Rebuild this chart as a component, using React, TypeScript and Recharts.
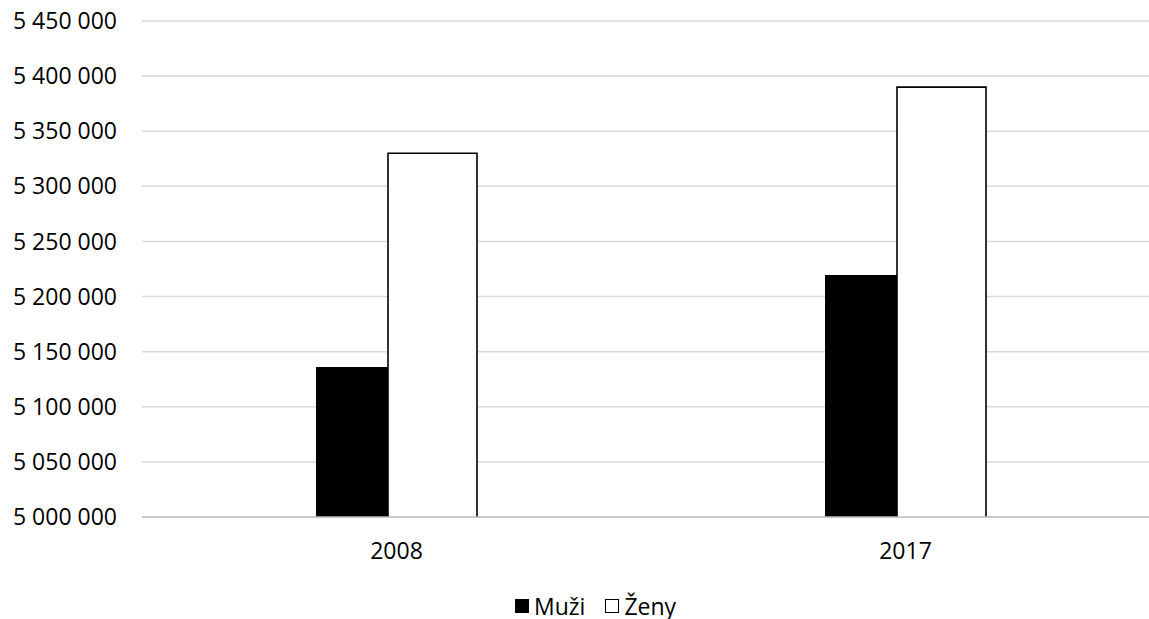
import { Bar, BarChart, CartesianGrid, Legend, XAxis, YAxis } from 'recharts';

const years = ['2008', '2017'];
const muzi = [5136000, 5219500];
const zeny = [5330000, 5390000];
const yTicks = [5000000, 5050000, 5100000, 5150000, 5200000, 5250000, 5300000, 5350000, 5400000, 5450000];

const data = years.map((year, i) => ({ year, muzi: muzi[i], zeny: zeny[i] }));

const FONT = '"Open Sans", sans-serif';

const fmt = (v: number) => v.toLocaleString('en-US').replace(/,/g, ' ');

// white bar, outlined on three sides (the axis line covers the bottom)
function OutlinedBar(props: any) {
  const { x, y, width, height } = props;
  return (
    <g>
      <rect x={x} y={y} width={width} height={height} fill="#fff" />
      <path
        d={`M${x},${y + height} L${x},${y} L${x + width},${y} L${x + width},${y + height}`}
        fill="none"
        stroke="#000"
        strokeWidth={1.6}
      />
    </g>
  );
}

function ChartLegend() {
  const item = (label: string, filled: boolean) => (
    <span style={{ display: 'inline-flex', alignItems: 'center', marginRight: 20 }}>
      <span
        style={{
          width: 14,
          height: 14,
          boxSizing: 'border-box',
          background: filled ? '#000' : '#fff',
          border: '1.5px solid #000',
          marginRight: 5,
        }}
      />
      <span>{label}</span>
    </span>
  );
  return (
    <div
      style={{
        height: 26,
        paddingLeft: 507,
        fontFamily: FONT,
        fontSize: 23,
        lineHeight: '26px',
        color: '#000',
        display: 'flex',
        alignItems: 'center',
      }}
    >
      {item('Muži', true)}
      {item('Ženy', false)}
    </div>
  );
}

export default function App() {
  return (
    <div
      style={{
        position: 'fixed',
        left: 0,
        top: 0,
        width: 1149,
        height: 619,
        overflow: 'hidden',
        background: '#fff',
      }}
    >
      <div style={{ position: 'absolute', left: 8, top: 8 }}>
        <BarChart
          width={1152}
          height={611}
          data={data}
          margin={{ top: 13, right: 0, bottom: 0, left: 0 }}
          barSize={89}
          barGap={-17}
        >
          <CartesianGrid vertical={false} stroke="#d9d9d9" strokeWidth={1.5} />
          <XAxis
            dataKey="year"
            height={76}
            tickSize={0}
            tickMargin={26}
            axisLine={{ stroke: '#bfbfbf', strokeWidth: 1.5 }}
            tickLine={false}
            tick={{ fill: '#000', fontSize: 23, fontFamily: FONT }}
          />
          <YAxis
            width={134}
            domain={[5000000, 5450000]}
            ticks={yTicks}
            interval={0}
            tickSize={0}
            tickMargin={25}
            axisLine={false}
            tickLine={false}
            tickFormatter={fmt}
            tick={{ fill: '#000', fontSize: 23, fontFamily: FONT }}
          />
          <Legend verticalAlign="bottom" align="left" content={<ChartLegend />} />
          <Bar dataKey="muzi" name="Muži" fill="#000" isAnimationActive={false} />
          <Bar dataKey="zeny" name="Ženy" shape={<OutlinedBar />} isAnimationActive={false} />
        </BarChart>
      </div>
    </div>
  );
}
